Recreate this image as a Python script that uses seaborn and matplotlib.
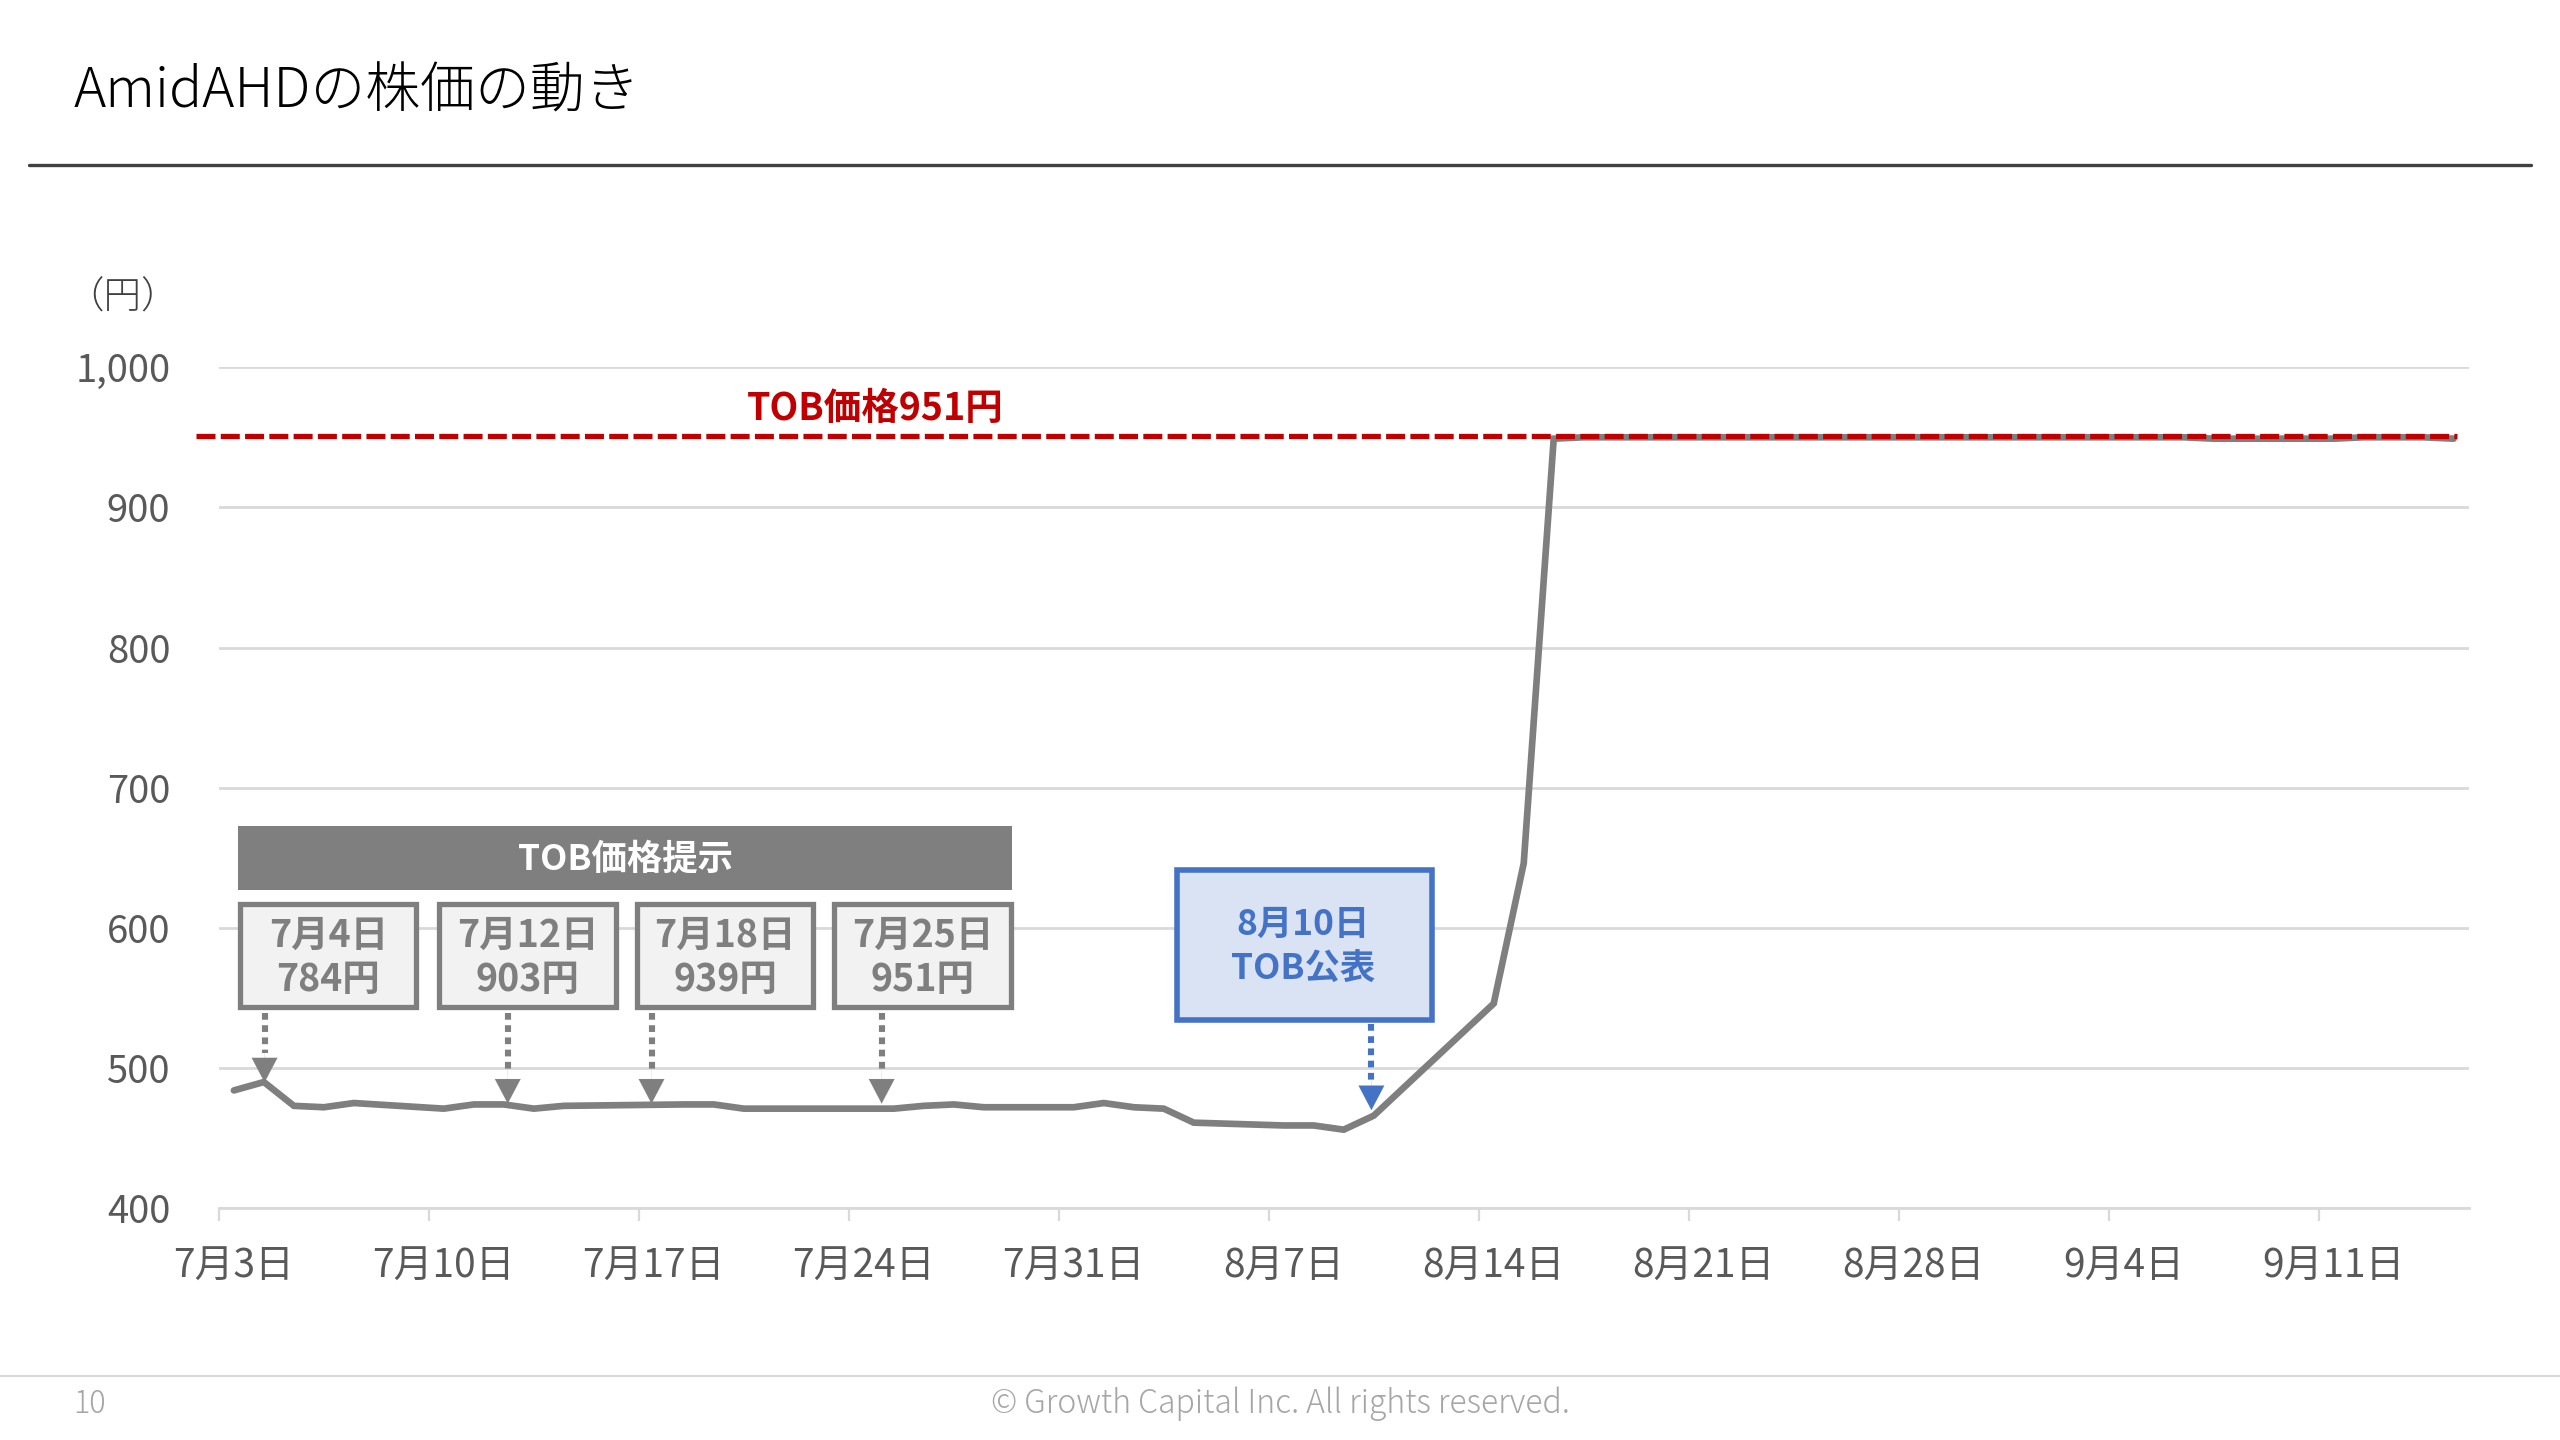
import matplotlib
matplotlib.use("Agg")
import matplotlib.pyplot as plt
import matplotlib.transforms as mtransforms
from matplotlib.patches import Rectangle
from matplotlib.ticker import FuncFormatter, FixedLocator
import matplotlib.dates as mdates
import seaborn as sns
import pandas as pd

# ---------------- data ----------------
dates = [
    "2023-07-03", "2023-07-04", "2023-07-05", "2023-07-06", "2023-07-07",
    "2023-07-10", "2023-07-11", "2023-07-12", "2023-07-13", "2023-07-14",
    "2023-07-18", "2023-07-19", "2023-07-20", "2023-07-21",
    "2023-07-24", "2023-07-25", "2023-07-26", "2023-07-27", "2023-07-28",
    "2023-07-31", "2023-08-01", "2023-08-02", "2023-08-03", "2023-08-04",
    "2023-08-07", "2023-08-08", "2023-08-09", "2023-08-10",
    "2023-08-14", "2023-08-15", "2023-08-16", "2023-08-17", "2023-08-18",
    "2023-08-21", "2023-08-22", "2023-08-23", "2023-08-24", "2023-08-25",
    "2023-08-28", "2023-08-29", "2023-08-30", "2023-08-31", "2023-09-01",
    "2023-09-04", "2023-09-05", "2023-09-06", "2023-09-07", "2023-09-08",
    "2023-09-11", "2023-09-12", "2023-09-13", "2023-09-14", "2023-09-15",
]
prices = [
    484, 490, 473, 472, 475,
    471, 474, 474, 471, 473,
    474, 474, 471, 471,
    471, 471, 473, 474, 472,
    472, 475, 472, 471, 461,
    459, 459, 456, 466,
    546, 646, 949, 950, 950,
    950, 950, 950, 950, 950,
    950, 950, 950, 950, 950,
    950, 950, 950, 949, 949,
    949, 950, 950, 950, 949,
]
TOB_PRICE = 951
tob_label = "TOB価格951円"
offer_header = "TOB価格提示"
offer_labels = ["7月4日\n784円", "7月12日\n903円", "7月18日\n939円", "7月25日\n951円"]
announce_label = "8月10日\nTOB公表"
y_ticks = [400, 500, 600, 700, 800, 900, 1000]
x_tick_dates = ["2023-07-03", "2023-07-10", "2023-07-17", "2023-07-24", "2023-07-31",
                "2023-08-07", "2023-08-14", "2023-08-21", "2023-08-28", "2023-09-04",
                "2023-09-11"]
x_start, x_end = "2023-07-03", "2023-09-17"

title = "AmidAHDの株価の動き"
unit_label = "（円）"
page_no = "10"
copyright_text = "© Growth Capital Inc. All rights reserved."

# ---------------- style ----------------
sns.set_theme(style="white")
plt.rcParams["font.family"] = ["Noto Sans CJK JP", "DejaVu Sans"]

GRAY_LINE = "#7F7F7F"
GRID = "#D9D9D9"
RED = "#C00000"
BLUE = "#4472C4"
BLUE_FILL = "#DAE3F3"
TXT = "#595959"

fig = plt.figure(figsize=(25.6, 14.4), dpi=100)
ax = fig.add_axes([0.0855, 0.161, 0.8788, 0.584])

# excel date axis: points sit in the middle of each day slot
df = pd.DataFrame({"date": pd.to_datetime(dates) + pd.Timedelta(hours=12),
                   "price": prices})
sns.lineplot(data=df, x="date", y="price", ax=ax, color=GRAY_LINE,
             linewidth=4.8, solid_joinstyle="miter", zorder=3)

ax.set_xlim(pd.Timestamp(x_start), pd.Timestamp(x_end) - pd.Timedelta(days=1))
ax.set_ylim(y_ticks[0], y_ticks[-1])
ax.set_xlabel("")
ax.set_ylabel("")

# y axis
ax.yaxis.set_major_locator(FixedLocator(y_ticks))
ax.yaxis.set_major_formatter(FuncFormatter(lambda v, p: f"{int(v):,}"))
ax.tick_params(axis="y", length=0, pad=35, labelsize=27.5, labelcolor=TXT)
ax.grid(axis="y", color=GRID, linewidth=2.0)
ax.grid(axis="x", visible=False)

# x axis: tick marks at day boundaries, labels centred in day slot
tick_ts = pd.to_datetime(x_tick_dates)
ax.xaxis.set_major_locator(FixedLocator(mdates.date2num(tick_ts)))
ax.xaxis.set_major_formatter(FuncFormatter(lambda v, p: ""))
ax.xaxis.set_minor_locator(FixedLocator(mdates.date2num(tick_ts + pd.Timedelta(hours=12))))
ax.xaxis.set_minor_formatter(FuncFormatter(
    lambda v, p: f"{mdates.num2date(v).month}月{mdates.num2date(v).day}日"))
ax.tick_params(axis="x", which="major", length=9.5, width=1.6, color=GRID,
               direction="out", bottom=True)
ax.tick_params(axis="x", which="minor", length=0, pad=28, labelsize=28,
               labelcolor=TXT, bottom=True)

for s in ["left", "right", "top"]:
    ax.spines[s].set_visible(False)
ax.spines["bottom"].set_color(GRID)
ax.spines["bottom"].set_linewidth(2.0)

# TOB price line (extends slightly left of plot area)
blend = mtransforms.blended_transform_factory(ax.transAxes, ax.transData)
ax.plot([-0.0102, 0.995], [TOB_PRICE, TOB_PRICE], transform=blend, color=RED,
        linewidth=3.8, dashes=(3.6, 1.0), clip_on=False, zorder=4)
ax.text(0.2917, 0.9515, tob_label, transform=ax.transAxes, ha="center", va="center",
        fontsize=27, fontweight="bold", color=RED, zorder=5)

# ---------------- annotations ----------------
T = ax.transAxes
ax.add_patch(Rectangle((0.0087, 0.3786), 0.344, 0.0758, transform=T,
                       facecolor=GRAY_LINE, edgecolor="none", zorder=5, clip_on=False))
ax.text(0.1807, 0.4155, offer_header, transform=T, ha="center", va="center",
        fontsize=25.5, fontweight="bold", color="white", zorder=6)

box_x = [(0.0094, 0.0878), (0.0980, 0.1763), (0.1858, 0.2642), (0.2736, 0.3520)]
arrow_x = [0.0203, 0.1284, 0.1923, 0.2946]
arrow_tip = [0.1495, 0.1243, 0.1243, 0.1243]
for (x0, x1), lab, axx, tip in zip(box_x, offer_labels, arrow_x, arrow_tip):
    ax.add_patch(Rectangle((x0, 0.2388), x1 - x0, 0.1224, transform=T,
                           facecolor="#F2F2F2", edgecolor=GRAY_LINE, linewidth=3.8,
                           zorder=5, clip_on=False))
    l1, l2 = lab.split("\n")
    xc = (x0 + x1) / 2
    ax.text(xc, 0.3243, l1, transform=T, ha="center", va="center", fontsize=27,
            fontweight="bold", color=GRAY_LINE, zorder=6)
    ax.text(xc, 0.2718, l2, transform=T, ha="center", va="center", fontsize=27,
            fontweight="bold", color=GRAY_LINE, zorder=6)
    ax.plot([axx, axx], [0.232, tip + 0.035], transform=T, color=GRAY_LINE,
            linewidth=4.4, dashes=(1.1, 0.9), dash_capstyle="butt", zorder=5)
    ax.annotate("", xy=(axx, tip), xytext=(axx, tip + 0.04), xycoords=T, textcoords=T,
                arrowprops=dict(arrowstyle="-|>,head_length=0.8,head_width=0.42",
                                mutation_scale=22, color=GRAY_LINE, lw=0.1,
                                shrinkA=0, shrinkB=0), zorder=5)

# announcement box
ax.add_patch(Rectangle((0.426, 0.2233), 0.1132, 0.1786, transform=T,
                       facecolor=BLUE_FILL, edgecolor=BLUE, linewidth=4.0,
                       zorder=5, clip_on=False))
a1, a2 = announce_label.split("\n")
ax.text(0.4819, 0.3379, a1, transform=T, ha="center", va="center", fontsize=25.5,
        fontweight="bold", color=BLUE, zorder=6)
ax.text(0.4819, 0.2835, a2, transform=T, ha="center", va="center", fontsize=25.5,
        fontweight="bold", color=BLUE, zorder=6)
ax.plot([0.5123, 0.5123], [0.219, 0.1165 + 0.035], transform=T, color=BLUE,
        linewidth=4.4, dashes=(1.1, 0.9), dash_capstyle="butt", zorder=5)
ax.annotate("", xy=(0.5123, 0.1165), xytext=(0.5123, 0.1165 + 0.04), xycoords=T,
            textcoords=T,
            arrowprops=dict(arrowstyle="-|>,head_length=0.8,head_width=0.42",
                            mutation_scale=22, color=BLUE, lw=0.1,
                            shrinkA=0, shrinkB=0), zorder=5)

# ---------------- page furniture ----------------
fig.text(0.0287, 0.936, title, ha="left", va="center", fontsize=39.5,
         fontweight="light", color="#000000")
fig.add_artist(plt.Line2D([0.0115, 0.9885], [0.8855, 0.8855], transform=fig.transFigure,
                          color="#404040", linewidth=2.4))
fig.text(0.026, 0.793, unit_label, ha="left", va="center", fontsize=27, color="#404040",
         fontweight="light")
fig.add_artist(plt.Line2D([0.0, 1.0], [0.0442, 0.0442], transform=fig.transFigure,
                          color=GRID, linewidth=1.5))
fig.text(0.0287, 0.025, page_no, ha="left", va="center", fontsize=22, color="#A6A6A6",
         fontweight="light")
fig.text(0.5, 0.025, copyright_text, ha="center", va="center", fontsize=23,
         color="#A6A6A6", fontweight="light")

fig.savefig("out.png", dpi=100, facecolor="white")
